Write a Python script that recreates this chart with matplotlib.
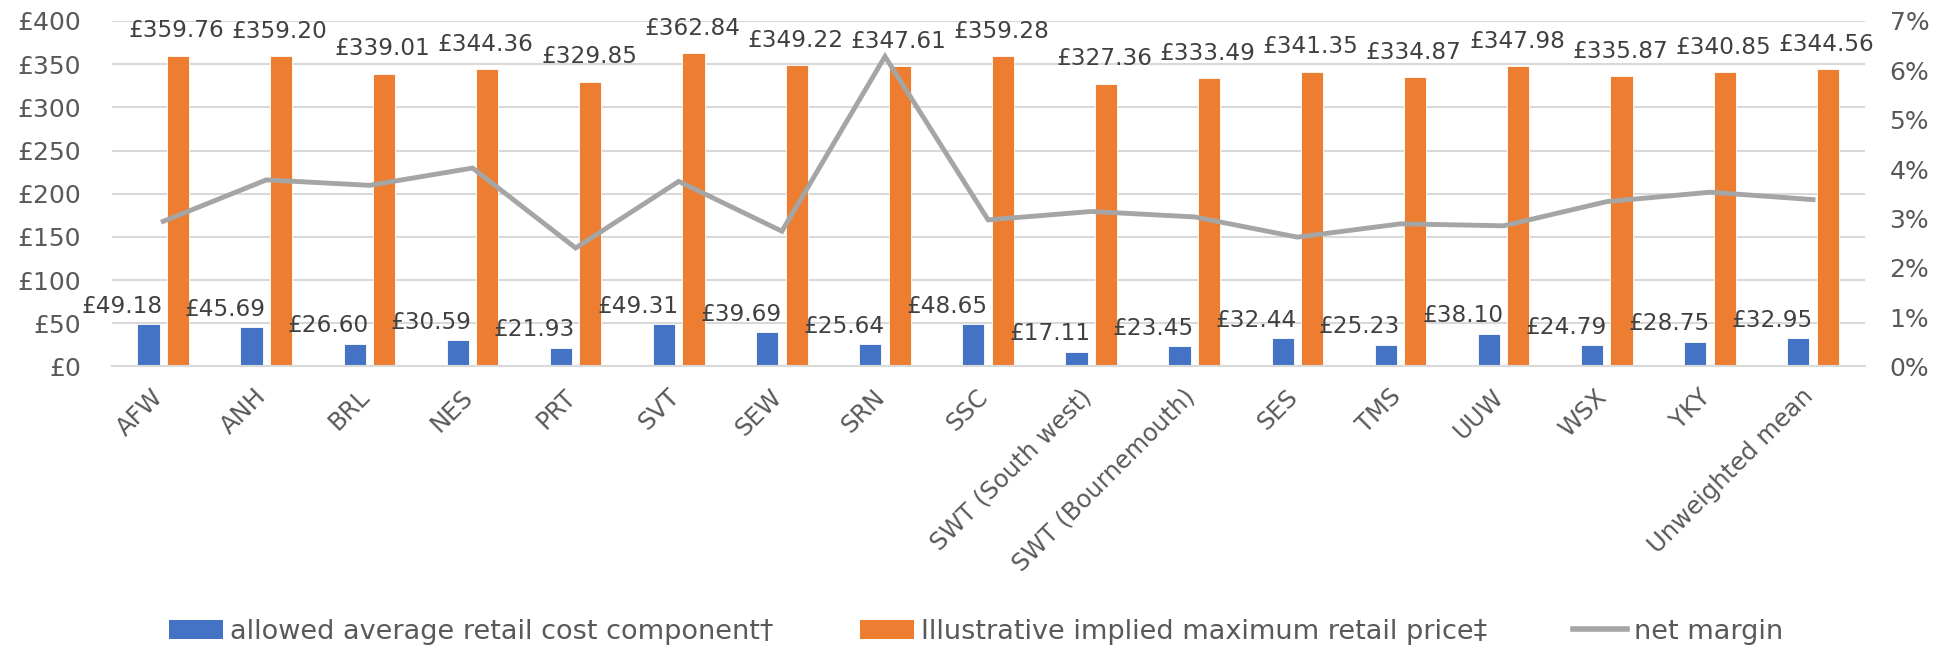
import matplotlib
matplotlib.use("Agg")
import matplotlib.pyplot as plt
import numpy as np
from matplotlib.patches import Patch
from matplotlib.lines import Line2D
from matplotlib.ticker import FuncFormatter, MultipleLocator
import matplotlib.transforms as mtransforms

plt.rcParams["font.family"] = ["DejaVu Sans"]

companies = ["AFW", "ANH", "BRL", "NES", "PRT", "SVT", "SEW", "SRN", "SSC",
             "SWT (South west)", "SWT (Bournemouth)", "SES", "TMS", "UUW",
             "WSX", "YKY", "Unweighted mean"]
retail_cost = [49.18, 45.69, 26.60, 30.59, 21.93, 49.31, 39.69, 25.64, 48.65,
               17.11, 23.45, 32.44, 25.23, 38.10, 24.79, 28.75, 32.95]
max_price = [359.76, 359.20, 339.01, 344.36, 329.85, 362.84, 349.22, 347.61, 359.28,
             327.36, 333.49, 341.35, 334.87, 347.98, 335.87, 340.85, 344.56]
net_margin = [2.94, 3.78, 3.67, 4.02, 2.40, 3.75, 2.74, 6.28, 2.97,
              3.14, 3.03, 2.62, 2.89, 2.85, 3.34, 3.53, 3.38]

BLUE, ORANGE, GREY = "#4472c4", "#ed7d31", "#a5a5a5"
TXT, LBL = "#595959", "#404040"

fig = plt.figure(figsize=(19.52, 6.52), dpi=100)
ax = fig.add_axes([0.0572, 0.4379, 0.898, 0.530])
x = np.arange(len(companies))
w, off = 0.215, 0.143

b1 = ax.bar(x - off, retail_cost, w, color=BLUE, edgecolor="white", linewidth=0.6, zorder=2)
b2 = ax.bar(x + off, max_price, w, color=ORANGE, edgecolor="white", linewidth=0.6, zorder=2)

# value labels (blue ones sit up-left of their bar, like the original)
for r, v in zip(b1, retail_cost):
    ax.annotate(f"£{v:.2f}", (r.get_x() + r.get_width() / 2, v), xytext=(-19, 4.5),
                textcoords="offset points", ha="center", va="bottom", fontsize=16.7, color=LBL)
for r, v in zip(b2, max_price):
    ax.annotate(f"£{v:.2f}", (r.get_x() + r.get_width() / 2, v), xytext=(-1, 9.5),
                textcoords="offset points", ha="center", va="bottom", fontsize=16.7, color=LBL)

ax.set_xlim(-0.5, len(companies) - 0.5)
ax.set_ylim(0, 400)
ax.yaxis.set_major_locator(MultipleLocator(50))
ax.yaxis.set_major_formatter(FuncFormatter(lambda v, p: f"£{v:.0f}"))
ax.grid(axis="y", color="#d9d9d9", lw=1.5, zorder=0)
ax.set_axisbelow(True)
for s in ["top", "right", "left"]:
    ax.spines[s].set_visible(False)
ax.spines["bottom"].set_color("#d9d9d9")
ax.spines["bottom"].set_linewidth(1.5)
ax.tick_params(axis="y", length=0, pad=22, labelsize=18, labelcolor=TXT)
ax.tick_params(axis="x", length=0, pad=13, labelsize=17.5, labelcolor=TXT)
ax.set_xticks(x)
ax.set_xticklabels(companies, rotation=45, ha="right")
shift = mtransforms.ScaledTranslation(5 / 100, 0, fig.dpi_scale_trans)
for t in ax.get_xticklabels():
    t.set_transform(t.get_transform() + shift)

ax2 = ax.twinx()
ax2.plot(x, net_margin, color=GREY, lw=3.5, solid_joinstyle="miter", zorder=3)
ax2.set_ylim(0, 7)
ax2.yaxis.set_major_locator(MultipleLocator(1))
ax2.yaxis.set_major_formatter(FuncFormatter(lambda v, p: f"{v:.0f}%"))
ax2.tick_params(axis="y", length=0, pad=18, labelsize=18, labelcolor=TXT)
for s in ax2.spines.values():
    s.set_visible(False)

handles = [Patch(facecolor=BLUE), Patch(facecolor=ORANGE), Line2D([], [], color=GREY, lw=4)]
labels = ["allowed average retail cost component†",
          "Illustrative implied maximum retail price‡", "net margin"]
leg = fig.legend(handles, labels, loc="center", bbox_to_anchor=(0.5, 0.031), ncol=3,
                 frameon=False, fontsize=19.5, handlelength=2.0, handletextpad=0.25,
                 columnspacing=3.2)
for t in leg.get_texts():
    t.set_color(TXT)

fig.savefig("out.png", dpi=100)
